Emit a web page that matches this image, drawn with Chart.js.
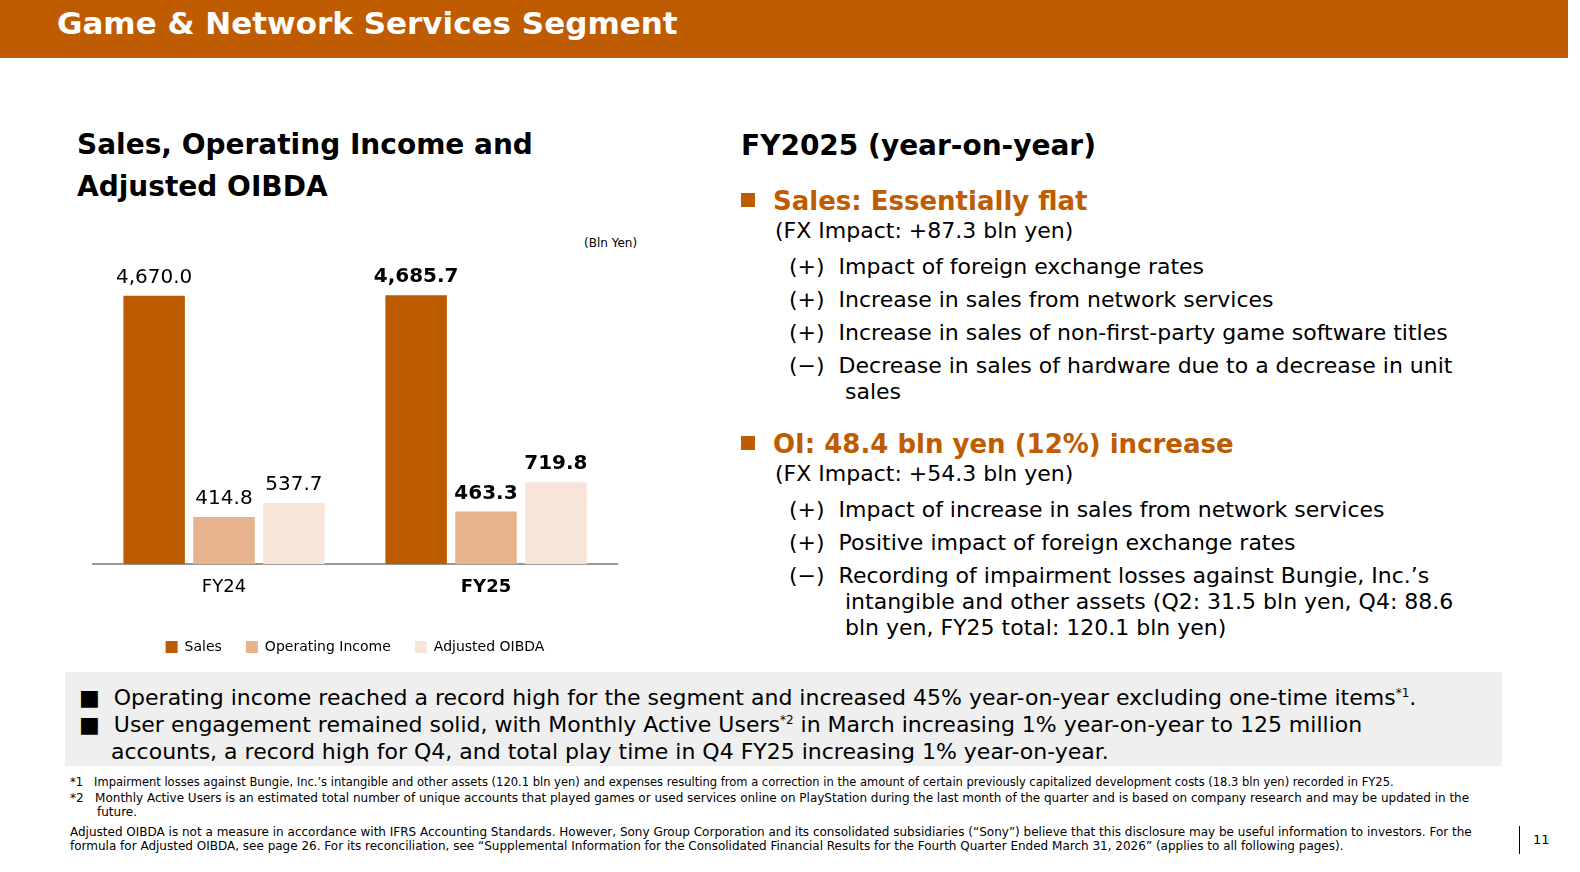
<!DOCTYPE html>
<html><head><meta charset="utf-8">
<script src="https://cdn.jsdelivr.net/npm/chart.js@4"></script>
<style>
body{margin:0;width:1580px;height:872px;position:relative;font-family:"DejaVu Sans",Verdana,sans-serif;background:#fff;color:#000;overflow:hidden}
.hdr{position:absolute;left:0;top:0;width:1568px;height:58px;background:#bf5b00;color:#fff;font-weight:bold;font-size:31px;line-height:46px;padding-left:57px;box-sizing:border-box}
.abs{position:absolute}
h2{margin:0;font-size:28px;font-weight:bold;line-height:42px}
.o{color:#bf5b00;font-weight:bold;font-size:26px}
.sq{display:inline-block;width:14px;height:14px;background:#bf5b00;margin-right:18px;vertical-align:3px}
.t{font-size:22px;line-height:30px}
.it{font-size:22px;line-height:26px;padding-left:56px;text-indent:-56px;margin-bottom:7px}
.box{position:absolute;left:65px;top:672px;width:1437px;height:94px;background:#efefef;font-size:22px;line-height:27px}
.fn{position:absolute;left:70px;font-size:11.5px;line-height:14px}
</style></head><body>
<div class="hdr">Game &amp; Network Services Segment</div>
<div class="abs" style="left:77px;top:124px"><h2>Sales, Operating Income and<br>Adjusted OIBDA</h2></div>
<div class="abs" style="left:584px;top:236px;font-size:12px">(Bln Yen)</div>
<div class="abs" style="left:65px;top:234px;width:600px;height:430px"><canvas id="c"></canvas></div>

<div class="abs" style="left:741px;top:125px;width:740px">
<h2>FY2025 (year-on-year)</h2>
<div style="margin-top:19px"><span class="sq"></span><span class="o">Sales: Essentially flat</span></div>
<div class="t" style="padding-left:34px">(FX Impact: +87.3 bln yen)</div>
<div style="padding-left:48px;margin-top:8px">
<div class="it">(+)&nbsp; Impact of foreign exchange rates</div>
<div class="it">(+)&nbsp; Increase in sales from network services</div>
<div class="it">(+)&nbsp; Increase in sales of non-first-party game software titles</div>
<div class="it">(−)&nbsp; Decrease in sales of hardware due to a decrease in unit sales</div>
</div>
<div style="margin-top:24px"><span class="sq"></span><span class="o">OI: 48.4 bln yen (12%) increase</span></div>
<div class="t" style="padding-left:34px">(FX Impact: +54.3 bln yen)</div>
<div style="padding-left:48px;margin-top:8px">
<div class="it">(+)&nbsp; Impact of increase in sales from network services</div>
<div class="it">(+)&nbsp; Positive impact of foreign exchange rates</div>
<div class="it">(−)&nbsp; Recording of impairment losses against Bungie, Inc.’s intangible and other assets (Q2: 31.5 bln yen, Q4: 88.6 bln yen, FY25 total: 120.1 bln yen)</div>
</div>
</div>

<div class="box">
<div style="position:absolute;left:14px;top:8px;width:1410px;padding-left:32px;text-indent:-32px">■&nbsp;&nbsp;Operating income reached a record high for the segment and increased 45% year-on-year excluding one-time items<sup style="font-size:12px">*1</sup>.</div>
<div style="position:absolute;left:14px;top:35px;width:1330px;padding-left:32px;text-indent:-32px">■&nbsp;&nbsp;User engagement remained solid, with Monthly Active Users<sup style="font-size:12px">*2</sup> in March increasing 1% year-on-year to 125 million accounts, a record high for Q4, and total play time in Q4 FY25 increasing 1% year-on-year.</div>
</div>
<div class="fn" style="top:775px;width:1400px">*1&nbsp;&nbsp; Impairment losses against Bungie, Inc.’s intangible and other assets (120.1 bln yen) and expenses resulting from a correction in the amount of certain previously capitalized development costs (18.3 bln yen) recorded in FY25.</div>
<div class="fn" style="top:791px;width:1380px;padding-left:27px;text-indent:-27px;font-size:12px">*2&nbsp;&nbsp; Monthly Active Users is an estimated total number of unique accounts that played games or used services online on PlayStation during the last month of the quarter and is based on company research and may be updated in the future.</div>
<div class="fn" style="top:825px;width:1420px;font-size:12px">Adjusted OIBDA is not a measure in accordance with IFRS Accounting Standards. However, Sony Group Corporation and its consolidated subsidiaries (“Sony”) believe that this disclosure may be useful information to investors. For the formula for Adjusted OIBDA, see page 26. For its reconciliation, see “Supplemental Information for the Consolidated Financial Results for the Fourth Quarter Ended March 31, 2026” (applies to all following pages).</div>
<div class="abs" style="left:1519px;top:826px;height:28px;border-left:1px solid #000"></div>
<div class="abs" style="left:1533px;top:832px;font-size:13px">11</div>

<script>
const categories = ['FY24', 'FY25'];
const sales = [4670.0, 4685.7];
const operatingIncome = [414.8, 463.3];
const adjustedOIBDA = [537.7, 719.8];

// broken value axis: linear up to BREAK, compressed above it
const BREAK = 1000, RATIO = 0.37;
const warp = v => v <= BREAK ? v : BREAK + (v - BREAK) * RATIO;
class BrokenScale extends Chart.LinearScale {
  getPixelForValue(v) {
    const t = (warp(v) - warp(this.min)) / (warp(this.max) - warp(this.min));
    return this.bottom - t * (this.bottom - this.top);
  }
  getValueForPixel(p) {
    const w = warp(this.min) + (this.bottom - p) / (this.bottom - this.top) * (warp(this.max) - warp(this.min));
    return w <= BREAK ? w : BREAK + (w - BREAK) / RATIO;
  }
}
BrokenScale.id = 'broken';
BrokenScale.defaults = Chart.LinearScale.defaults;
Chart.register(BrokenScale);

const valueLabels = {
  id: 'valueLabels',
  afterDatasetsDraw(chart) {
    const ctx = chart.ctx;
    ctx.save();
    ctx.textAlign = 'center';
    ctx.textBaseline = 'bottom';
    ctx.fillStyle = '#000';
    chart.data.datasets.forEach((ds, i) => {
      chart.getDatasetMeta(i).data.forEach((bar, j) => {
        ctx.font = (j === 1 ? 'bold ' : '') + '20px "DejaVu Sans"';
        const v = ds.data[j].toLocaleString('en-US', {minimumFractionDigits: 1});
        ctx.fillText(v, bar.x, bar.y - 8);
      });
    });
    ctx.restore();
  }
};

new Chart(document.getElementById('c'), {
  type: 'bar',
  data: {
    labels: categories,
    datasets: [
      {label: 'Sales', data: sales, backgroundColor: '#bd5b00'},
      {label: 'Operating Income', data: operatingIncome, backgroundColor: '#e6b38c'},
      {label: 'Adjusted OIBDA', data: adjustedOIBDA, backgroundColor: '#f8e5d9'}
    ]
  },
  options: {
    responsive: true, maintainAspectRatio: false, animation: false,
    layout: {padding: {left: 28, right: 48, top: 10, bottom: 0}},
    categoryPercentage: 0.8, barPercentage: 0.88,
    plugins: {
      tooltip: {enabled: false},
      legend: {
        position: 'bottom',
        title: {display: true, text: ' ', font: {size: 1}, padding: {top: 0, bottom: 13}},
        labels: {boxWidth: 12, boxHeight: 12, padding: 24, color: '#000',
                 font: {family: 'DejaVu Sans', size: 14}}
      }
    },
    scales: {
      y: {type: 'broken', min: 0, max: 5900, display: false},
      x: {
        grid: {display: false},
        border: {color: '#999', width: 2},
        ticks: {color: '#000', padding: 4,
                font: c => ({family: 'DejaVu Sans', size: 18, weight: c.index === 1 ? 'bold' : 'normal'})}
      }
    }
  },
  plugins: [valueLabels]
});
</script>
</body></html>
